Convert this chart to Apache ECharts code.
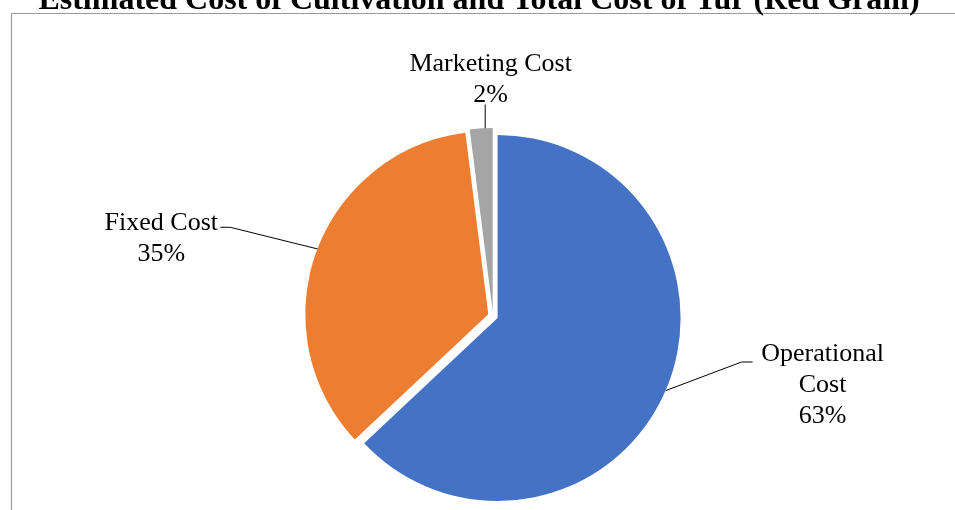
<!DOCTYPE html>
<html>
<head>
<meta charset="utf-8">
<script src="https://cdn.jsdelivr.net/npm/echarts@6/dist/echarts.min.js"></script>
<style>
html,body{margin:0;padding:0;background:#fff;}
#chart{width:955px;height:510px;}
</style>
</head>
<body>
<div id="chart"></div>
<script>
var categories = ['Operational Cost', 'Fixed Cost', 'Marketing Cost'];
var values = [63, 35, 2];
var colors = ['#4472C4', '#ED7D31', '#A5A5A5'];
var titleText = 'Estimated Cost of Cultivation and Total Cost of Tur (Red Gram)';

// label centre placement (style only)
var labelPos = [
  {x: 822, y: 383},
  {x: 161, y: 236.5},
  {x: 491, y: 78.5}
];
// small rendering nudges for the text blocks (style only)
var labelNudge = [
  {x: -4, y: 0},
  {x: 5, y: 4},
  {x: 0, y: 6}
];

var chart = echarts.init(document.getElementById('chart'), null, {renderer: 'canvas'});
var serif = '"Liberation Serif", "Times New Roman", serif';

var option = {
  animation: false,
  backgroundColor: '#fff',
  title: {
    text: titleText,
    left: 474,
    textAlign: 'center',
    top: -20,
    textStyle: {fontFamily: serif, fontSize: 32, fontWeight: 'bold', color: '#000'}
  },
  graphic: [{
    type: 'rect',
    shape: {x: 11.5, y: 13.5, width: 1000, height: 600},
    style: {fill: 'none', stroke: '#9a9a9a', lineWidth: 1.2},
    silent: true
  }],
  series: [{
    type: 'pie',
    center: [493, 316],
    radius: [0, 183],
    startAngle: 90,
    clockwise: true,
    selectedMode: 'multiple',
    selectedOffset: 5,
    emphasis: {disabled: true},
    data: categories.map(function (c, i) {
      return {name: c, value: values[i], selected: true, itemStyle: {color: colors[i]}};
    }),
    label: {
      show: true,
      position: 'outside',
      alignTo: 'none',
      formatter: function (p) {
        var name = p.name === 'Operational Cost' ? 'Operational\nCost' : p.name;
        return name.split('\n').map(function (s) { return '{c|' + s + '}'; }).join('\n') +
          '\n{c|' + Math.round(p.percent) + '%}';
      },
      fontFamily: serif,
      fontSize: 26,
      lineHeight: 31,
      color: '#000',
      rich: {
        c: {align: 'center', fontFamily: serif, fontSize: 26, lineHeight: 31, color: '#000'}
      }
    },
    labelLine: {show: true, lineStyle: {color: '#000', width: 1}, length: 20, length2: 10},
    labelLayout: function (p) {
      var i = p.dataIndex;
      var pos = labelPos[i];
      var nd = labelNudge[i];
      var r = p.labelRect;
      var w = r.width, h = r.height;
      var out = {
        dx: pos.x - (r.x + w / 2) + nd.x,
        dy: pos.y - (r.y + h / 2) + nd.y
      };
      var a = p.labelLinePoints ? p.labelLinePoints[0] : null;
      if (a) {
        if (i === 2) {
          var by = pos.y + 31;
          out.labelLinePoints = [[a[0] + 4, a[1] + 5], [a[0] + 4, (a[1] + 5 + by) / 2], [a[0] + 4, by]];
        } else if (i === 1) {
          var ly = pos.y - 7.5;
          var rx = pos.x + 58;
          out.labelLinePoints = [[a[0] + 3, a[1] - 3], [rx + 16, ly], [rx + 6, ly]];
        } else {
          var ly0 = pos.y - 23;
          var lx = pos.x - 62;
          out.labelLinePoints = [[a[0], a[1]], [lx - 23, ly0], [lx - 12, ly0]];
        }
      }
      return out;
    }
  }]
};
chart.setOption(option);
</script>
</body>
</html>
